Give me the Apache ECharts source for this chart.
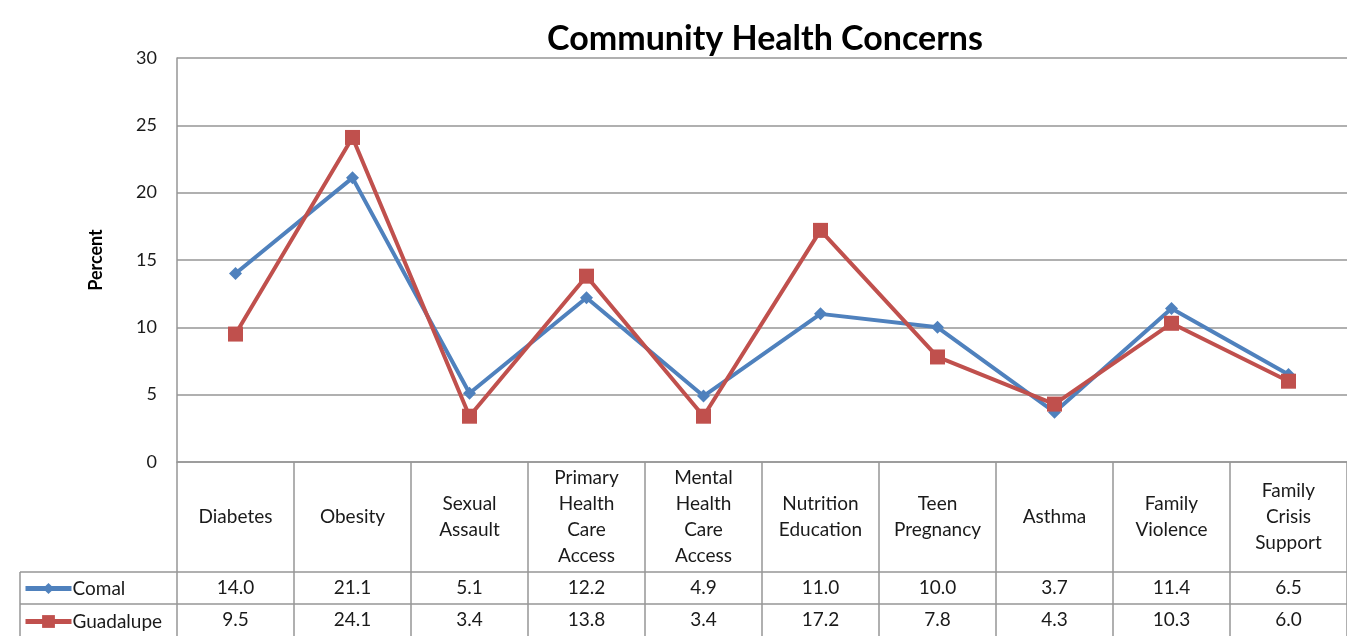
<!DOCTYPE html>
<html>
<head>
<meta charset="utf-8">
<script src="https://cdn.jsdelivr.net/npm/echarts@6/dist/echarts.min.js"></script>
<style>
  html, body { margin: 0; padding: 0; background: #fff; }
  #chart { width: 1347px; height: 636px; }
</style>
</head>
<body>
<div id="chart"></div>
<script>
// 类目 / 数据
const categories = ['Diabetes', 'Obesity', 'Sexual\nAssault', 'Primary\nHealth\nCare\nAccess', 'Mental\nHealth\nCare\nAccess',
  'Nutrition\nEducation', 'Teen\nPregnancy', 'Asthma', 'Family\nViolence', 'Family\nCrisis\nSupport'];
const comal = [14.0, 21.1, 5.1, 12.2, 4.9, 11.0, 10.0, 3.7, 11.4, 6.5];
const guadalupe = [9.5, 24.1, 3.4, 13.8, 3.4, 17.2, 7.8, 4.3, 10.3, 6.0];
const yTicks = [0, 5, 10, 15, 20, 25, 30];

const fontFam = 'Lato, "Open Sans", sans-serif';
const lineColor = '#969696';
const textColor = '#1a1a1a';
const fs = 19;

// 表格布局（像素）
const gridLeft = 177;
const gridTop = 58;
const axisY = 462;
const row1 = 572; // 表头底边
const row2 = 604; // Comal 行底边
const tableLeft = 20;
const W = 1347, H = 636;

const legendText = { fontFamily: fontFam, fontSize: fs, color: textColor, padding: [0, 0, 0, -4] };

const chart = echarts.init(document.getElementById('chart'));
const option = {
  animation: false,
  title: {
    text: 'Community Health Concerns',
    left: 760,
    textAlign: 'center',
    top: 17,
    textStyle: { fontFamily: fontFam, fontSize: 34, fontWeight: 'bold', color: '#000' },
  },
  legend: [
    {
      left: tableLeft + 3, top: row1 + 7, itemWidth: 46, itemHeight: 14, padding: 0,
      lineStyle: { width: 5 },
      data: ['Comal'], textStyle: legendText,
    },
    {
      left: tableLeft + 3, top: row2 + 8, itemWidth: 46, itemHeight: 16, padding: 0,
      lineStyle: { width: 5 },
      data: ['Guadalupe'], textStyle: legendText,
    },
  ],
  grid: { left: gridLeft, right: 0, top: gridTop, bottom: H - axisY },
  xAxis: [
    {
      type: 'category',
      data: categories,
      boundaryGap: true,
      axisLine: { show: true, lineStyle: { color: lineColor, width: 1.5 } },
      axisTick: { show: true, interval: 0, length: H - axisY, lineStyle: { color: lineColor, width: 1.5 } },
      axisLabel: {
        interval: 0, margin: (row1 - axisY) / 2, verticalAlign: 'middle', lineHeight: 26,
        fontFamily: fontFam, fontSize: fs, color: textColor, align: 'center',
      },
    },
    {
      type: 'category',
      position: 'bottom',
      data: comal.map(v => v.toFixed(1)),
      axisLine: { show: false }, axisTick: { show: false },
      axisLabel: { interval: 0, margin: (row1 + row2) / 2 - axisY, verticalAlign: 'middle', fontFamily: fontFam, fontSize: fs, color: textColor },
    },
    {
      type: 'category',
      position: 'bottom',
      data: guadalupe.map(v => v.toFixed(1)),
      axisLine: { show: false }, axisTick: { show: false },
      axisLabel: { interval: 0, margin: row2 + 16 - axisY, verticalAlign: 'middle', fontFamily: fontFam, fontSize: fs, color: textColor },
    },
  ],
  yAxis: {
    type: 'value',
    min: yTicks[0],
    max: yTicks[yTicks.length - 1],
    interval: 5,
    name: 'Percent',
    nameLocation: 'middle',
    nameGap: 72,
    nameTextStyle: { fontFamily: fontFam, fontSize: 18, fontWeight: 'bold', color: '#000' },
    axisLine: { show: true, lineStyle: { color: lineColor, width: 1.5 } },
    axisTick: { show: false },
    axisLabel: { margin: 20, fontFamily: fontFam, fontSize: 18, color: textColor },
    splitLine: { show: true, lineStyle: { color: lineColor, width: 1.5 } },
  },
  series: [
    {
      name: 'Comal', type: 'line', data: comal,
      symbol: 'diamond', symbolSize: 13,
      lineStyle: { color: '#4F81BD', width: 4 },
      itemStyle: { color: '#4F81BD' },
    },
    {
      name: 'Guadalupe', type: 'line', data: guadalupe,
      symbol: 'rect', symbolSize: 15,
      lineStyle: { color: '#C0504D', width: 4 },
      itemStyle: { color: '#C0504D' },
    },
  ],
  graphic: [
    { type: 'line', shape: { x1: tableLeft, y1: row1, x2: W, y2: row1 }, style: { stroke: lineColor, lineWidth: 1.5 } },
    { type: 'line', shape: { x1: tableLeft, y1: row2, x2: W, y2: row2 }, style: { stroke: lineColor, lineWidth: 1.5 } },
    { type: 'line', shape: { x1: tableLeft, y1: row1, x2: tableLeft, y2: H }, style: { stroke: lineColor, lineWidth: 1.5 } },
  ],
};
chart.setOption(option);
</script>
</body>
</html>
